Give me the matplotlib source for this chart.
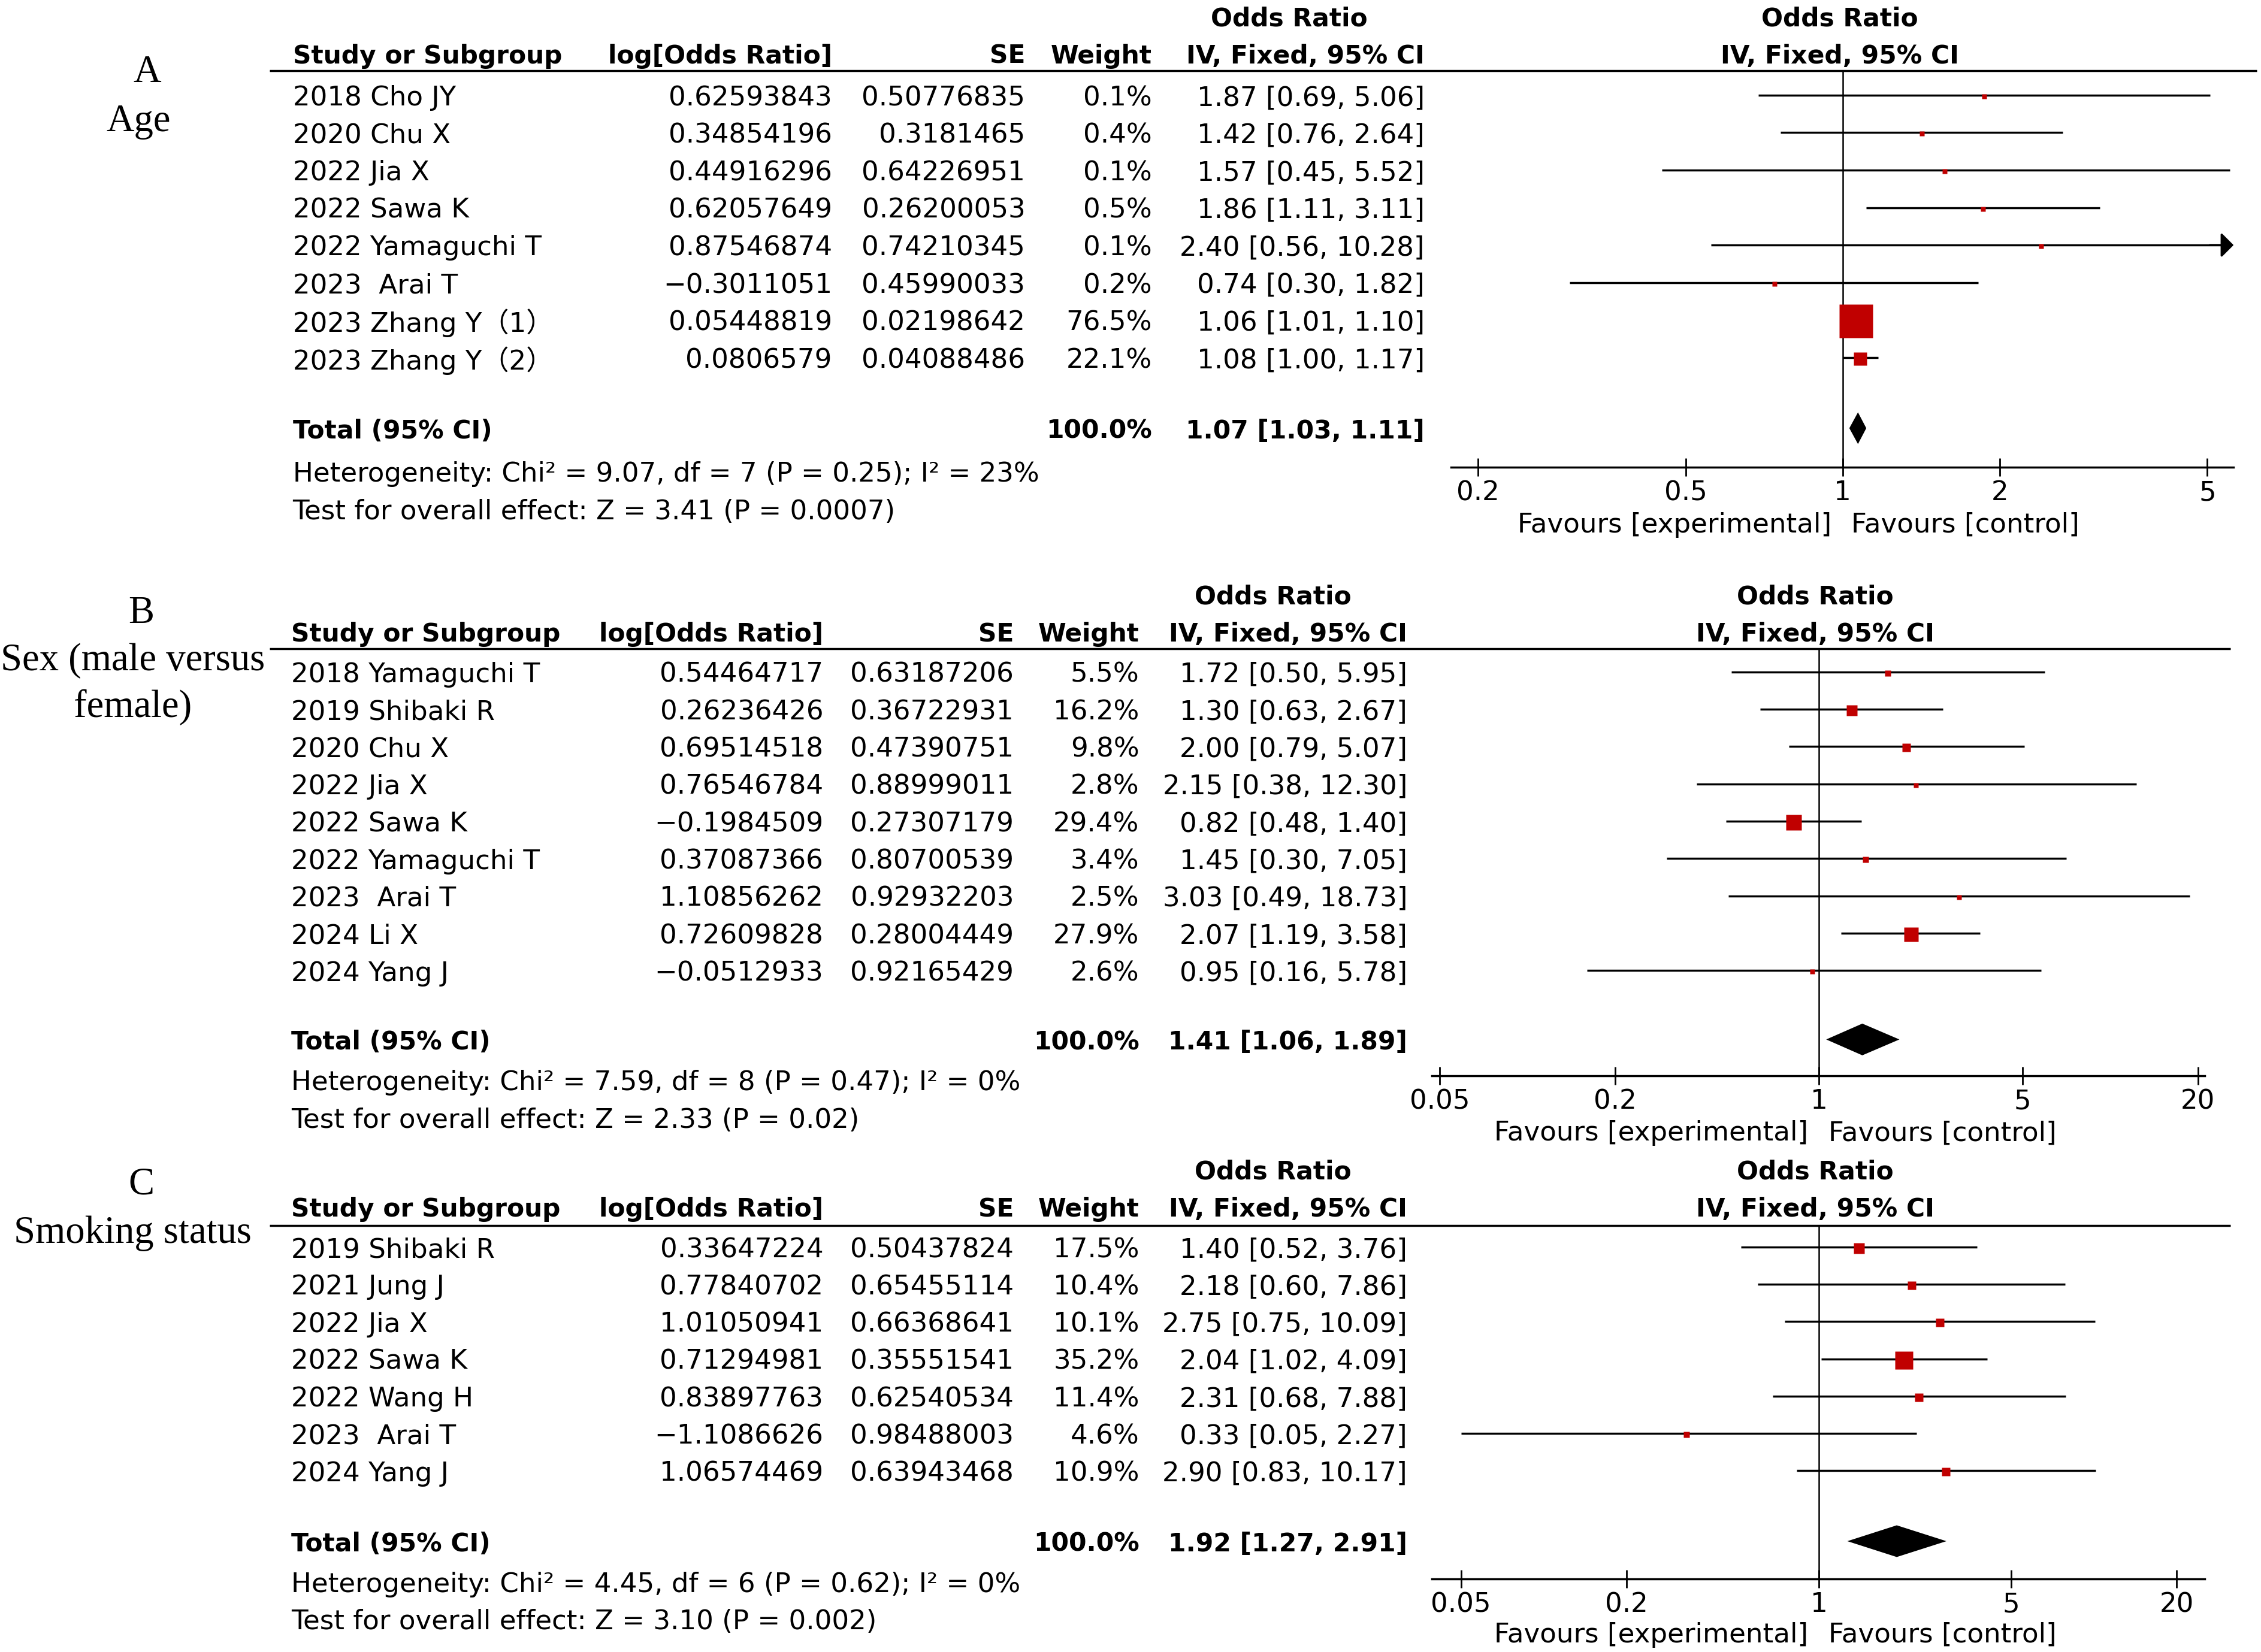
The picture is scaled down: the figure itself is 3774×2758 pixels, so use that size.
import matplotlib
matplotlib.use('Agg')
import matplotlib.pyplot as plt
from matplotlib.ticker import NullLocator

plt.rcParams['font.family'] = ['DejaVu Sans', 'Noto Sans CJK SC']

# ---- A: Age ----
a_study = ['2018 Cho JY', '2020 Chu X', '2022 Jia X', '2022 Sawa K', '2022 Yamaguchi T',
           '2023  Arai T', '2023 Zhang Y（1）', '2023 Zhang Y（2）']
a_logor = [0.62593843, 0.34854196, 0.44916296, 0.62057649, 0.87546874, -0.3011051, 0.05448819, 0.0806579]
a_se = [0.50776835, 0.3181465, 0.64226951, 0.26200053, 0.74210345, 0.45990033, 0.02198642, 0.04088486]
a_weight = [0.1, 0.4, 0.1, 0.5, 0.1, 0.2, 76.5, 22.1]
a_or = [1.87, 1.42, 1.57, 1.86, 2.40, 0.74, 1.06, 1.08]
a_lo = [0.69, 0.76, 0.45, 1.11, 0.56, 0.30, 1.01, 1.00]
a_hi = [5.06, 2.64, 5.52, 3.11, 10.28, 1.82, 1.10, 1.17]
a_total = [1.07, 1.03, 1.11]
a_het = 'Heterogeneity: Chi² = 9.07, df = 7 (P = 0.25); I² = 23%'
a_test = 'Test for overall effect: Z = 3.41 (P = 0.0007)'
a_ticks = [0.2, 0.5, 1, 2, 5]
a_ticklabels = ['0.2', '0.5', '1', '2', '5']

# ---- B: Sex ----
b_study = ['2018 Yamaguchi T', '2019 Shibaki R', '2020 Chu X', '2022 Jia X', '2022 Sawa K',
           '2022 Yamaguchi T', '2023  Arai T', '2024 Li X', '2024 Yang J']
b_logor = [0.54464717, 0.26236426, 0.69514518, 0.76546784, -0.1984509, 0.37087366, 1.10856262, 0.72609828, -0.0512933]
b_se = [0.63187206, 0.36722931, 0.47390751, 0.88999011, 0.27307179, 0.80700539, 0.92932203, 0.28004449, 0.92165429]
b_weight = [5.5, 16.2, 9.8, 2.8, 29.4, 3.4, 2.5, 27.9, 2.6]
b_or = [1.72, 1.30, 2.00, 2.15, 0.82, 1.45, 3.03, 2.07, 0.95]
b_lo = [0.50, 0.63, 0.79, 0.38, 0.48, 0.30, 0.49, 1.19, 0.16]
b_hi = [5.95, 2.67, 5.07, 12.30, 1.40, 7.05, 18.73, 3.58, 5.78]
b_total = [1.41, 1.06, 1.89]
b_het = 'Heterogeneity: Chi² = 7.59, df = 8 (P = 0.47); I² = 0%'
b_test = 'Test for overall effect: Z = 2.33 (P = 0.02)'

# ---- C: Smoking ----
c_study = ['2019 Shibaki R', '2021 Jung J', '2022 Jia X', '2022 Sawa K', '2022 Wang H',
           '2023  Arai T', '2024 Yang J']
c_logor = [0.33647224, 0.77840702, 1.01050941, 0.71294981, 0.83897763, -1.1086626, 1.06574469]
c_se = [0.50437824, 0.65455114, 0.66368641, 0.35551541, 0.62540534, 0.98488003, 0.63943468]
c_weight = [17.5, 10.4, 10.1, 35.2, 11.4, 4.6, 10.9]
c_or = [1.40, 2.18, 2.75, 2.04, 2.31, 0.33, 2.90]
c_lo = [0.52, 0.60, 0.75, 1.02, 0.68, 0.05, 0.83]
c_hi = [3.76, 7.86, 10.09, 4.09, 7.88, 2.27, 10.17]
c_total = [1.92, 1.27, 2.91]
c_het = 'Heterogeneity: Chi² = 4.45, df = 6 (P = 0.62); I² = 0%'
c_test = 'Test for overall effect: Z = 3.10 (P = 0.002)'
bc_ticks = [0.05, 0.2, 1, 5, 20]
bc_ticklabels = ['0.05', '0.2', '1', '5', '20']

# layout units: 1568 wide frame, scaled to 3774 px
W = 1568.0
H = 2758 / (3774 / W)
FS = 32.5
FSB = 30.5
SERIF = 46.5
RED = '#c00000'
LW = 2.5
DY = 2.0  # text baseline nudge

fig = plt.figure(figsize=(37.74, 27.58), dpi=100)
tab = fig.add_axes([0, 0, 1, 1])
tab.set_xlim(0, W)
tab.set_ylim(H, 0)
tab.axis('off')


def fmt(v):
    return str(v).replace('-', '\u2212')


def panel(study, logor, se, weight, ors, lo, hi, total, het, test, ticks, ticklabels, L):
    c = L['cols']
    bold = dict(fontsize=FSB, fontweight='bold', va='center')
    reg = dict(fontsize=FS, va='center')

    # side label (A / Age etc.)
    for txt, x, y in L['tag']:
        tab.text(x, y + 2.5, txt, ha='center', va='center', fontsize=SERIF, family=['Liberation Serif'])

    # header
    hy = L['head_y'] + DY
    tab.text(L['odds_x'], L['odds_y'] + DY, 'Odds Ratio', ha='center', **bold)
    tab.text(L['fh_x'], L['odds_y'] + DY, 'Odds Ratio', ha='center', **bold)
    tab.text(c[0], hy, 'Study or Subgroup', ha='left', **bold)
    tab.text(c[1], hy, 'log[Odds Ratio]', ha='right', **bold)
    tab.text(c[2], hy, 'SE', ha='right', **bold)
    tab.text(c[3], hy, 'Weight', ha='right', **bold)
    tab.text(c[4], hy, 'IV, Fixed, 95% CI', ha='right', **bold)
    tab.text(L['fh_x'], hy, 'IV, Fixed, 95% CI', ha='center', **bold)
    tab.plot([187, L['line_x1']], [L['line_y']] * 2, color='black', lw=LW, solid_capstyle='butt')

    rows = [L['row0'] + i * L['dy'] for i in range(len(study))]
    for y, s, lg, e, w, o, l, h in zip(rows, study, logor, se, weight, ors, lo, hi):
        tab.text(c[0], y + DY, s, ha='left', **reg)
        tab.text(c[1], y + DY, fmt(lg), ha='right', **reg)
        tab.text(c[2], y + DY, fmt(e), ha='right', **reg)
        tab.text(c[3], y + DY, f'{w:.1f}%', ha='right', **reg)
        tab.text(c[4], y + DY, f'{o:.2f} [{l:.2f}, {h:.2f}]', ha='right', **reg)

    ty = L['total_y']
    tab.text(c[0], ty + DY, 'Total (95% CI)', ha='left', **bold)
    tab.text(c[3], ty + DY, '100.0%', ha='right', **bold)
    tab.text(c[4], ty + DY, f'{total[0]:.2f} [{total[1]:.2f}, {total[2]:.2f}]', ha='right', **bold)
    tab.text(c[0], L['het_y'] + DY, het, ha='left', **reg)
    tab.text(c[0], L['test_y'] + DY, test, ha='left', **reg)

    # forest plot
    x0, x1, ay, ly = L['fx0'], L['fx1'], L['axis_y'], L['line_y']
    ax = fig.add_axes([x0 / W, 1 - ay / H, (x1 - x0) / W, (ay - ly) / H])
    ax.set_xscale('log')
    ax.set_xlim(L['xlim'])
    ax.set_ylim(ay, ly)
    ax.patch.set_visible(False)
    for sp in ['top', 'left', 'right']:
        ax.spines[sp].set_visible(False)
    ax.spines['bottom'].set_linewidth(LW)
    ax.axvline(1, color='black', lw=1.8)
    xmax = L['xlim'][1]
    for y, w, o, l, h in zip(rows, weight, ors, lo, hi):
        if h > xmax:
            ax.plot([l, xmax * 0.97], [y, y], color='black', lw=LW, solid_capstyle='butt')
            ax.annotate('', xy=(xmax, y), xytext=(xmax * 0.9, y), annotation_clip=False,
                        arrowprops=dict(arrowstyle='-|>,head_length=0.45,head_width=0.45',
                                        color='black', lw=LW, shrinkA=0, shrinkB=0,
                                        mutation_scale=28))
        else:
            ax.plot([l, h], [y, y], color='black', lw=LW, solid_capstyle='butt')
        ax.plot([o], [y + 0.8], marker='s', ms=(7 + 0.635 * w) * 0.72, color=RED,
                mec='none', linestyle='none')
    ax.fill([total[1], total[0], total[2], total[0]], [ty, ty - 11, ty, ty + 11],
            color='black', lw=0)
    ax.set_xticks(ticks)
    ax.set_xticklabels(ticklabels)
    ax.xaxis.set_minor_locator(NullLocator())
    ax.set_yticks([])
    ax.tick_params(axis='x', direction='inout', length=21, width=2.0, labelsize=FS, pad=5)

    tab.text(L['fav_x'] - 7, L['fav_y'] + DY, 'Favours [experimental]', ha='right', **reg)
    tab.text(L['fav_x'] + 7, L['fav_y'] + DY, 'Favours [control]', ha='left', **reg)


lay_a = dict(tag=[('A', 102, 48), ('Age', 96, 82)],
             cols=[203, 577, 711, 799, 988], odds_x=894, fh_x=1276,
             odds_y=11, head_y=37, line_y=49, line_x1=1565,
             row0=66, dy=26.0, total_y=297, het_y=327, test_y=353,
             fx0=1006.3, fx1=1549, axis_y=324, xlim=(0.1776, 5.615),
             fav_x=1277, fav_y=362)
lay_b = dict(tag=[('B', 98, 423), ('Sex (male versus', 92, 456), ('female)', 92, 488)],
             cols=[202, 571, 703, 790, 976], odds_x=883, fh_x=1259,
             odds_y=412, head_y=438, line_y=450, line_x1=1547,
             row0=466, dy=25.9, total_y=721, het_y=749, test_y=775,
             fx0=993, fx1=1529, axis_y=746, xlim=(0.047, 21.1),
             fav_x=1261, fav_y=784)
lay_c = dict(tag=[('C', 98, 819), ('Smoking status', 92, 853)],
             cols=[202, 571, 703, 790, 976], odds_x=883, fh_x=1259,
             odds_y=811, head_y=837, line_y=850, line_x1=1547,
             row0=865, dy=25.85, total_y=1069, het_y=1097, test_y=1123,
             fx0=993, fx1=1529, axis_y=1095, xlim=(0.0392, 25.3),
             fav_x=1261, fav_y=1132)

panel(a_study, a_logor, a_se, a_weight, a_or, a_lo, a_hi, a_total, a_het, a_test,
      a_ticks, a_ticklabels, lay_a)
panel(b_study, b_logor, b_se, b_weight, b_or, b_lo, b_hi, b_total, b_het, b_test,
      bc_ticks, bc_ticklabels, lay_b)
panel(c_study, c_logor, c_se, c_weight, c_or, c_lo, c_hi, c_total, c_het, c_test,
      bc_ticks, bc_ticklabels, lay_c)

fig.savefig('out.png', dpi=100)
